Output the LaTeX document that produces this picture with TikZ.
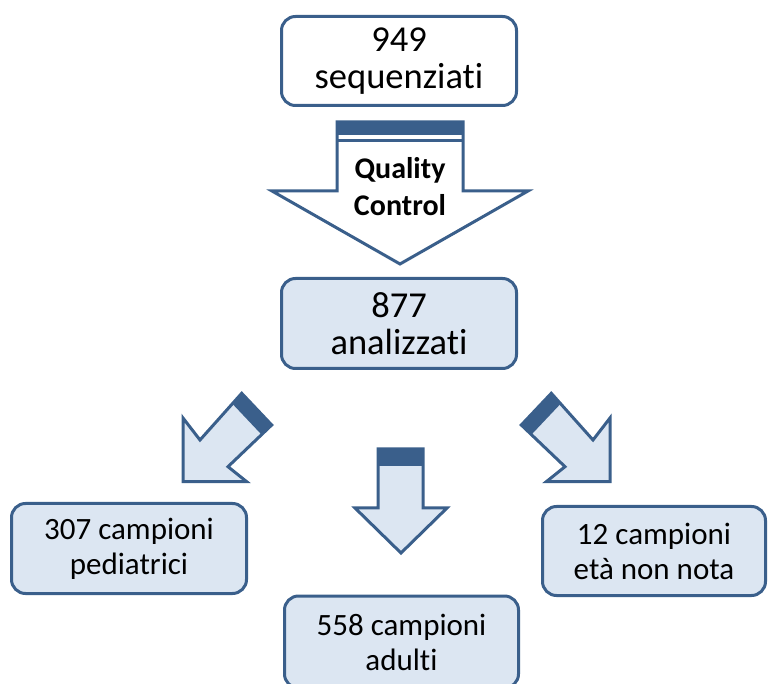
\documentclass[tikz,border=0pt]{standalone}
\usepackage{fontspec}
\setmainfont{Carlito}[Ligatures = NoCommon]
\usetikzlibrary{calc}
\definecolor{boxblue}{RGB}{58,95,139}
\definecolor{boxfill}{RGB}{220,230,242}

\begin{document}
\begin{tikzpicture}[x=1pt,y=-1pt]
\tikzset{BoxStyle/.style =
	{draw = boxblue,
		line width = 3pt,
		rounded corners = 14pt,
		align = center,
		inner sep = 0pt,
		minimum width = 235pt,
		minimum height = 90pt,
		font = \fontsize{36.5}{37}\selectfont}}
\tikzset{SmallBox/.style = {BoxStyle, fill = boxfill,
		font = \fontsize{31}{35}\selectfont}}
\tikzset{BlockArrow/.style = {draw = boxblue, line width = 3pt, fill = boxfill}}
\clip (0,0) rectangle (769,684);
% boxes
\node[BoxStyle, fill = white, minimum height = 89pt] (Seq) at (399,61) {949\\sequenziati};
\node[BoxStyle, fill = boxfill] (Anl) at (399,323.5) {877\\analizzati};
\node[SmallBox] (Ped) at (129,548.5) {307 campioni\\pediatrici};
\node[SmallBox, minimum width = 234pt, minimum height = 92pt] (Adu) at (401.5,642) {558 campioni\\adulti};
\node[SmallBox, minimum width = 223pt, minimum height = 89pt] (Unk) at (654,551) {12 campioni\\et\`a non nota};
% quality control arrow
\draw[BlockArrow, fill = white] (337,122) -- (463,122) -- (463,191) -- (528,191)
	-- (400,264) -- (272,191) -- (337,191) -- cycle;
\fill[boxblue] (337,122) rectangle (463,135);
\draw[boxblue, line width = 3pt] (337,141) -- (463,141);
\node[font = \bfseries\fontsize{30}{37}\selectfont, align = center] (QC) at (400,187) {Quality\\Control};
% side arrows
\foreach \s/\o in {1/0,-1/793}{
	\begin{scope}[shift = {(\o,0)}, xscale = \s]
		\coordinate (tA) at (241.7,393.3);
		\coordinate (tB) at (271.7,425);
		\coordinate (nB) at (228,466.7);
		\coordinate (nA) at (200,440);
		\draw[BlockArrow] (tA) -- (tB) -- (nB) -- (246.7,481.7) -- (183,481.7)
			-- (183,418) -- (nA) -- cycle;
		\fill[boxblue] (tA) -- (tB) -- ($(tB)!14pt!(nB)$) -- ($(tA)!14pt!(nA)$) -- cycle;
	\end{scope}
}
% middle arrow
\draw[BlockArrow] (378,449) -- (423,449) -- (423,508) -- (447,508)
	-- (401,553) -- (355,508) -- (378,508) -- cycle;
\fill[boxblue] (378,449) rectangle (423,466);
\end{tikzpicture}
\end{document}
